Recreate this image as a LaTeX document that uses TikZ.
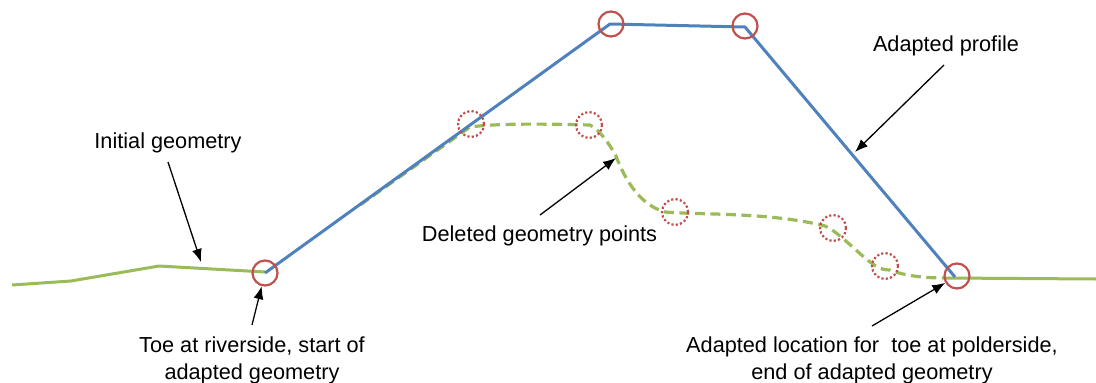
\documentclass[tikz,border=0pt]{standalone}
\usepackage{fontspec}
\setmainfont{Liberation Sans}
\usepackage{tikz}
\usetikzlibrary{arrows.meta}
\definecolor{geomgreen}{RGB}{155,187,89}
\definecolor{profileblue}{RGB}{79,129,189}
\definecolor{circlered}{RGB}{192,80,77}
\tikzset{
    label text/.style={font=\fontsize{21.7}{27}\selectfont, align=center, inner sep=0pt, text=black},
    toe/.style={circle, draw=circlered, line width=2.2pt, minimum size=25pt, inner sep=0pt},
    deleted/.style={circle, draw=circlered, line width=2.2pt, dash pattern=on 2.2pt off 2.2pt, minimum size=26pt, inner sep=0pt},
    pointer/.style={draw=black, line width=1.3pt, -{Latex[length=13pt,width=10pt]}}
}
\begin{document}
\begin{tikzpicture}[x=1pt, y=-1pt]
    \useasboundingbox (0,0) rectangle (1096,383);

    % green ground line
    \draw[geomgreen, line width=3pt, line join=round] (12,285) -- (71,281) -- (159,266) -- (265,272);
    \draw[geomgreen, line width=3pt] (945,278) -- (1096,279);
    \draw[geomgreen, line width=3.2pt, dash pattern=on 10pt off 5.5pt]
        (360,205) -- (470,127) .. controls (500,123) and (550,124) .. (590,125)
        .. controls (600,130) and (610,145) .. (616,156)
        .. controls (625,180) and (640,205) .. (665,212)
        .. controls (700,215) and (770,212) .. (825,226)
        .. controls (835,230) and (850,245) .. (865,258)
        .. controls (875,266) and (880,270) .. (890,270)
        .. controls (905,276) and (925,278) .. (945,278);

    % adapted profile
    \coordinate (A) at (265,273);
    \coordinate (B) at (610,24);
    \coordinate (C) at (745,27);
    \coordinate (D) at (955,277);
    \draw[profileblue, line width=3pt, line join=round] (A) -- (B) -- (C) -- (D);

    \node[toe] (T1) at (265,273) {};
    \node[toe] (T2) at (611,24) {};
    \node[toe] (T3) at (745,26) {};
    \node[toe] (T4) at (957,276) {};

    \foreach \i/\x/\y in {1/471/124, 2/589/125, 3/675/212, 4/833/228, 5/885/266} {
        \node[deleted] (P\i) at (\x,\y) {};
    }

    \node[label text] (initial) at (168,143) {Initial geometry};
    \node[label text] (profile) at (946,46) {Adapted profile};
    \node[label text] (points) at (539.5,236) {Deleted geometry points};
    \node[label text] (river) at (252,360) {Toe at riverside, start of\\adapted geometry};
    \node[label text] (polder) at (872,360) {Adapted location for\ \ toe at polderside,\\end of adapted geometry};

    \coordinate (initialend) at (201,262);
    \coordinate (profileend) at (855,152);
    \coordinate (pointsend) at (616,158);
    \draw[pointer] (168,162) -- (initialend);
    \draw[pointer] (944,65) -- (profileend);
    \draw[pointer] (540,215) -- (pointsend);
    \draw[pointer] (252,325) -- (T1);
    \draw[pointer] (872,326) -- (T4);
\end{tikzpicture}
\end{document}
